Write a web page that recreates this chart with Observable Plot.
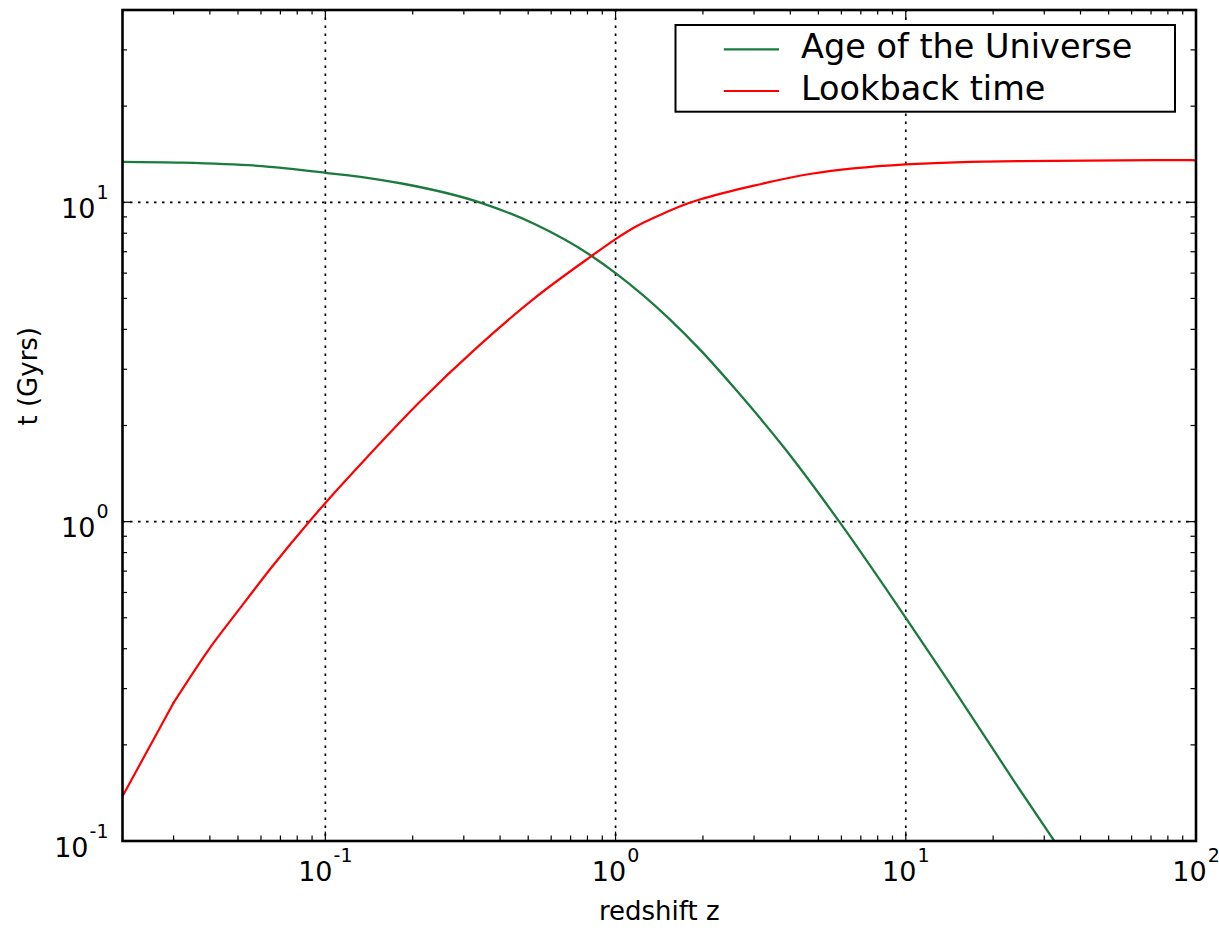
<!DOCTYPE html>
<html>
<head>
<meta charset="utf-8">
<script src="https://cdn.jsdelivr.net/npm/d3@7"></script>
<script src="https://cdn.jsdelivr.net/npm/@observablehq/plot@0.6"></script>
<style>
  body { margin: 0; background: #fff; }
  #wrap { position: relative; width: 1219px; height: 932px; font-family: "DejaVu Sans", sans-serif; }
  #legend { position: absolute; left: 674px; top: 24px; }
</style>
</head>
<body>
<div id="wrap"></div>
<script>
// ---- data ----
const zAge = [0.02, 0.0321, 0.0604, 0.1, 0.1528, 0.1834, 0.346, 0.526, 0.827, 1.0, 1.522, 1.977, 2.568, 3.818, 5.90, 10.04, 14.0, 18.2, 23.6, 32.5];
const tAge = [13.39, 13.31, 12.98, 12.37, 11.78, 11.45, 9.94, 8.55, 6.79, 6.0, 4.34, 3.42, 2.62, 1.70, 1.0, 0.497, 0.317, 0.221, 0.154, 0.1];

const zLook = [0.02, 0.030, 0.0396, 0.0503, 0.0654, 0.0884, 0.1011, 0.141, 0.21, 0.3377, 0.526, 0.827, 1.0, 1.135, 1.5, 1.8, 2.0, 3.0, 4.73, 10, 25, 96, 100];
const tLook = [0.138, 0.271, 0.397, 0.529, 0.721, 1.005, 1.157, 1.611, 2.356, 3.55, 5.01, 6.79, 7.67, 8.25, 9.32, 9.96, 10.27, 11.28, 12.28, 13.14, 13.46, 13.55, 13.52];

const seriesNames = ["Age of the Universe", "Lookback time"];
const seriesColors = ["#1b7a3e", "#ff0000"];

const xMajorTicks = [0.1, 1, 10, 100];
const xTickLabels = ["10^-1", "10^0", "10^1", "10^2"];
const xMinorTicks = [0.02,0.03,0.04,0.05,0.06,0.07,0.08,0.09, 0.2,0.3,0.4,0.5,0.6,0.7,0.8,0.9, 2,3,4,5,6,7,8,9, 20,30,40,50,60,70,80,90];
const xGrid = [0.1, 1, 10];

const yMajorTicks = [0.1, 1, 10];
const yTickLabels = ["10^-1", "10^0", "10^1"];
const yMinorTicks = [0.2,0.3,0.4,0.5,0.6,0.7,0.8,0.9, 2,3,4,5,6,7,8,9, 20,30,40];
const yGrid = [1, 10];

const xLabel = "redshift z";
const yLabel = "t (Gyrs)";

// ---- layout ----
const W = 1219, H = 932;
const mL = 122, mR = 23.5, mT = 9.5, mB = 91.5;
const innerW = W - mL - mR, innerH = H - mT - mB;
const majorLen = 9, minorLen = 5;

const ageData = zAge.map((z, i) => ({z, t: tAge[i]}));
const lookData = zLook.map((z, i) => ({z, t: tLook[i]}));

const tickStyle = {stroke: "black", strokeWidth: 1.2};
const gridStyle = {stroke: "black", strokeOpacity: 1, strokeWidth: 1.7, strokeDasharray: "2.5,5.5"};

function sideTicks(vals, len) {
  return [
    Plot.ruleX(vals, {x: d => d, insetTop: innerH - len, ...tickStyle}),
    Plot.ruleX(vals, {x: d => d, insetBottom: innerH - len, ...tickStyle})
  ];
}
function sideTicksY(vals, len) {
  return [
    Plot.ruleY(vals, {y: d => d, insetRight: innerW - len, ...tickStyle}),
    Plot.ruleY(vals, {y: d => d, insetLeft: innerW - len, ...tickStyle})
  ];
}

const chart = Plot.plot({
  width: W, height: H,
  marginLeft: mL, marginRight: mR, marginTop: mT, marginBottom: mB,
  style: {fontFamily: "DejaVu Sans, sans-serif", fontSize: "27px", background: "white", color: "black"},
  x: {type: "log", domain: [0.02, 100], axis: null},
  y: {type: "log", domain: [0.1, 40], axis: null},
  marks: [
    Plot.ruleX(xGrid, {x: d => d, ...gridStyle}),
    Plot.ruleY(yGrid, {y: d => d, ...gridStyle}),
    Plot.line(ageData, {x: "z", y: "t", stroke: seriesColors[0], strokeWidth: 2.3, curve: "monotone-x", clip: true}),
    Plot.line(lookData.slice(0, 2), {x: "z", y: "t", stroke: seriesColors[1], strokeWidth: 2.2, clip: true}),
    Plot.line(lookData.slice(1), {x: "z", y: "t", stroke: seriesColors[1], strokeWidth: 2.2, curve: "monotone-x", clip: true}),
    ...sideTicks(xMinorTicks, minorLen),
    ...sideTicks(xMajorTicks, majorLen),
    ...sideTicksY(yMinorTicks, minorLen),
    ...sideTicksY(yMajorTicks, majorLen),
    Plot.frame({stroke: "black", strokeWidth: 2.6}),
    Plot.text(xMajorTicks, {x: d => d, text: (d, i) => xTickLabels[i], frameAnchor: "bottom", dy: 40, fontSize: 27, fill: "black", textAnchor: "middle"}),
    Plot.text(yMajorTicks, {y: d => d, text: (d, i) => yTickLabels[i], frameAnchor: "left", dx: -14, dy: 7, fontSize: 27, fill: "black", textAnchor: "end"}),
    Plot.text([xLabel], {text: d => d, frameAnchor: "bottom", dy: 79, fontSize: 26, fill: "black"}),
    Plot.text([yLabel], {text: d => d, frameAnchor: "left", dx: -94, rotate: -90, fontSize: 26, fill: "black"})
  ]
});

// superscript exponents on tick labels ("10^e" -> 10 with raised e)
d3.select(chart).selectAll("text")
  .filter(function() { return this.textContent.includes("^"); })
  .each(function() {
    const [base, exp] = this.textContent.split("^");
    const el = d3.select(this);
    el.text(null);
    el.append("tspan").text(base);
    el.append("tspan").attr("dx", 1).attr("dy", -19).attr("font-size", "19px").text(exp);
  });

const wrap = document.getElementById("wrap");
wrap.appendChild(chart);

// legend box (overlay inside the axes, upper right)
const lg = d3.create("svg").attr("id", "legend").attr("width", 504).attr("height", 92)
  .style("font-family", "DejaVu Sans, sans-serif");
lg.append("rect").attr("x", 1.5).attr("y", 1).attr("width", 499.5).attr("height", 86.7)
  .attr("fill", "white").attr("stroke", "black").attr("stroke-width", 2);
seriesNames.forEach((name, i) => {
  const cy = 25.3 + i * 41.7;
  lg.append("line").attr("x1", 49.8).attr("x2", 105).attr("y1", cy).attr("y2", cy)
    .attr("stroke", seriesColors[i]).attr("stroke-width", 2.2);
  lg.append("text").attr("x", 127).attr("y", cy + 8.5).attr("font-size", "33.5px").attr("fill", "black").text(name);
});
wrap.appendChild(lg.node());
</script>
</body>
</html>
